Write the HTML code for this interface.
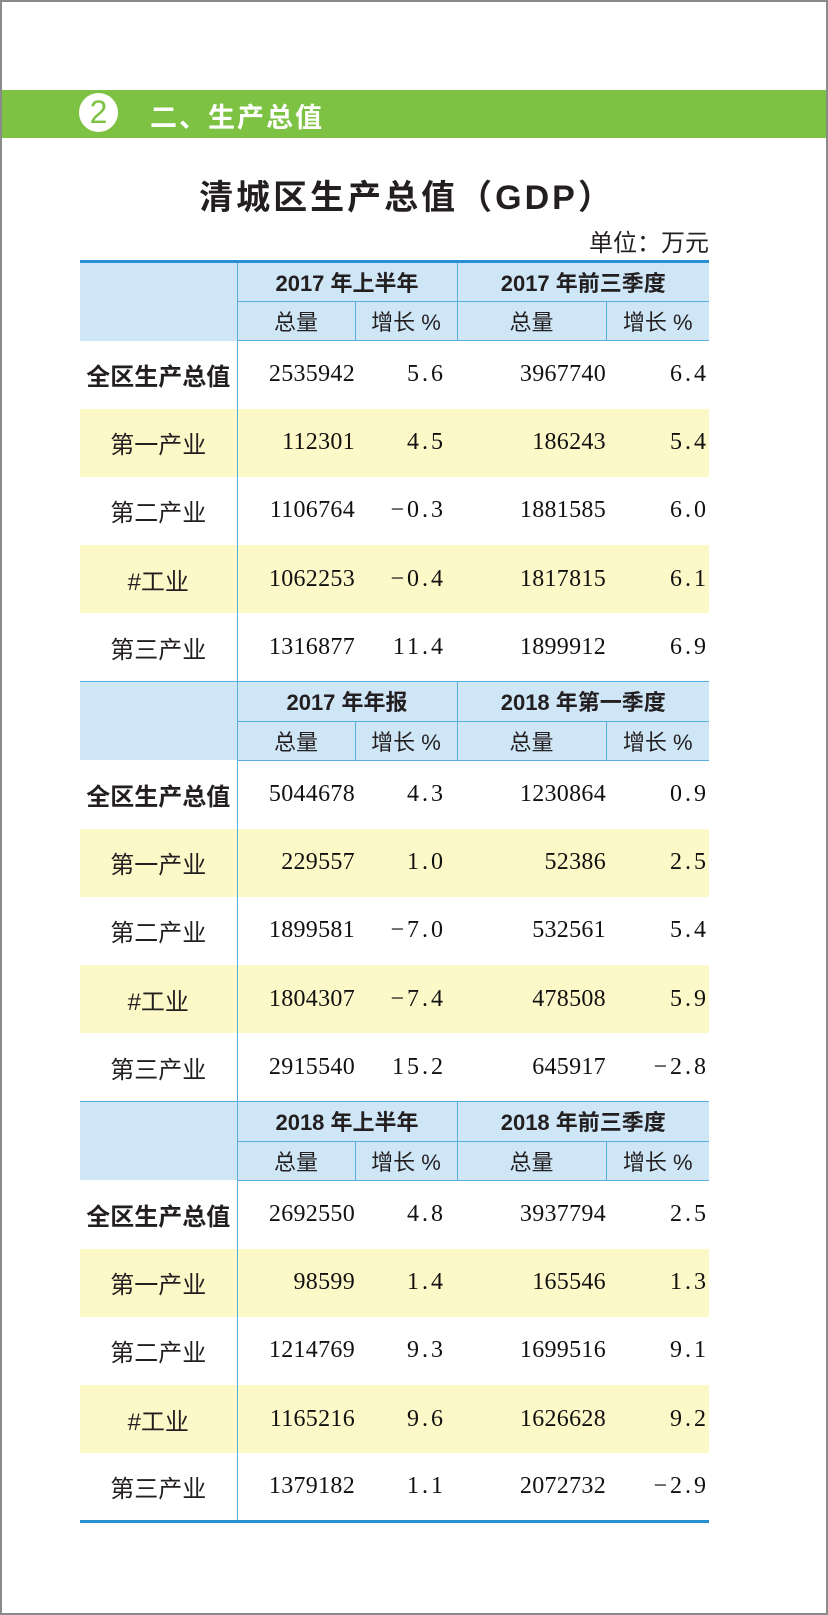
<!DOCTYPE html>
<html><head><meta charset="utf-8"><style>
*{margin:0;padding:0;box-sizing:border-box}
body{width:828px;height:1615px;background:#fff;position:relative;overflow:hidden;font-family:"Liberation Sans","Noto Sans CJK SC",sans-serif;color:#231f20}
.frame{position:absolute;left:0;top:0;width:828px;height:1615px;border:2px solid #8a8a8a}
.band{position:absolute;left:2px;top:90px;width:824px;height:48px;background:#7dc243}
.circ{position:absolute;left:79px;top:93px;width:39px;height:39px;border-radius:50%;background:#fff;color:#7dc243;font-size:32px;text-align:center;line-height:39px}
.bt{position:absolute;left:150px;top:96px;font-size:27px;font-weight:bold;color:#fff;letter-spacing:2px}
.title{position:absolute;left:12px;width:790px;text-align:center;top:170px;font-size:34px;font-weight:bold;letter-spacing:3px}
.unit{position:absolute;right:119px;top:223px;font-size:24px}
table{position:absolute;left:80px;top:260px;border-collapse:collapse;table-layout:fixed;width:629px}
td{padding:0;font-size:24px;white-space:nowrap;color:#231f20}
tr.h1 td{height:40px;background:#cfe6f7;text-align:center;font-weight:bold;font-size:22px}
tr.h2 td{height:39px;background:#cfe6f7;text-align:center;font-size:22px}
tr.h1{border-top:1.5px solid #5aaee0}
tr.first{border-top:3px solid #2a8fd0}
tr.h2 td{border-top:1.5px solid #5aaee0;border-bottom:1.5px solid #5aaee0}
tr.d td{height:68.2px}
tr.y td{background:#fdf8c8}
td.l{text-align:center;border-right:1.5px solid #5aaee0}
td.b{font-weight:bold}
td.n{text-align:right;font-family:"Liberation Serif",serif;font-size:24px;letter-spacing:0.3px;color:#111}
td.g{text-align:right;font-family:"Liberation Serif",serif;font-size:24px;letter-spacing:3px;color:#111}
td.pr{padding-right:11px}
.vr{border-right:1.5px solid #5aaee0}
tr.last td{border-bottom:3px solid #2a8fd0}
</style></head><body>
<div class="frame"></div>
<div class="band"></div>
<div class="circ">2</div>
<div class="bt">二、生产总值</div>
<div class="title">清城区生产总值（GDP）</div>
<div class="unit">单位：万元</div>
<table>
<colgroup><col style="width:157px"><col style="width:118px"><col style="width:102px"><col style="width:149px"><col style="width:103px"></colgroup>
<tr class="h1 first"><td class="l" rowspan="2"></td><td colspan="2" class="vr">2017 年上半年</td><td colspan="2">2017 年前三季度</td></tr>
<tr class="h2"><td class="vr">总量</td><td class="vr">增长 %</td><td class="vr">总量</td><td>增长 %</td></tr>
<tr class="d"><td class="l b">全区生产总值</td><td class="n">2535942</td><td class="g pr">5.6</td><td class="n">3967740</td><td class="g">6.4</td></tr>
<tr class="d y"><td class="l">第一产业</td><td class="n">112301</td><td class="g pr">4.5</td><td class="n">186243</td><td class="g">5.4</td></tr>
<tr class="d"><td class="l">第二产业</td><td class="n">1106764</td><td class="g pr">−0.3</td><td class="n">1881585</td><td class="g">6.0</td></tr>
<tr class="d y"><td class="l">#工业</td><td class="n">1062253</td><td class="g pr">−0.4</td><td class="n">1817815</td><td class="g">6.1</td></tr>
<tr class="d"><td class="l">第三产业</td><td class="n">1316877</td><td class="g pr">11.4</td><td class="n">1899912</td><td class="g">6.9</td></tr>
<tr class="h1"><td class="l" rowspan="2"></td><td colspan="2" class="vr">2017 年年报</td><td colspan="2">2018 年第一季度</td></tr>
<tr class="h2"><td class="vr">总量</td><td class="vr">增长 %</td><td class="vr">总量</td><td>增长 %</td></tr>
<tr class="d"><td class="l b">全区生产总值</td><td class="n">5044678</td><td class="g pr">4.3</td><td class="n">1230864</td><td class="g">0.9</td></tr>
<tr class="d y"><td class="l">第一产业</td><td class="n">229557</td><td class="g pr">1.0</td><td class="n">52386</td><td class="g">2.5</td></tr>
<tr class="d"><td class="l">第二产业</td><td class="n">1899581</td><td class="g pr">−7.0</td><td class="n">532561</td><td class="g">5.4</td></tr>
<tr class="d y"><td class="l">#工业</td><td class="n">1804307</td><td class="g pr">−7.4</td><td class="n">478508</td><td class="g">5.9</td></tr>
<tr class="d"><td class="l">第三产业</td><td class="n">2915540</td><td class="g pr">15.2</td><td class="n">645917</td><td class="g">−2.8</td></tr>
<tr class="h1"><td class="l" rowspan="2"></td><td colspan="2" class="vr">2018 年上半年</td><td colspan="2">2018 年前三季度</td></tr>
<tr class="h2"><td class="vr">总量</td><td class="vr">增长 %</td><td class="vr">总量</td><td>增长 %</td></tr>
<tr class="d"><td class="l b">全区生产总值</td><td class="n">2692550</td><td class="g pr">4.8</td><td class="n">3937794</td><td class="g">2.5</td></tr>
<tr class="d y"><td class="l">第一产业</td><td class="n">98599</td><td class="g pr">1.4</td><td class="n">165546</td><td class="g">1.3</td></tr>
<tr class="d"><td class="l">第二产业</td><td class="n">1214769</td><td class="g pr">9.3</td><td class="n">1699516</td><td class="g">9.1</td></tr>
<tr class="d y"><td class="l">#工业</td><td class="n">1165216</td><td class="g pr">9.6</td><td class="n">1626628</td><td class="g">9.2</td></tr>
<tr class="d last"><td class="l">第三产业</td><td class="n">1379182</td><td class="g pr">1.1</td><td class="n">2072732</td><td class="g">−2.9</td></tr>
</table>
</body></html>
